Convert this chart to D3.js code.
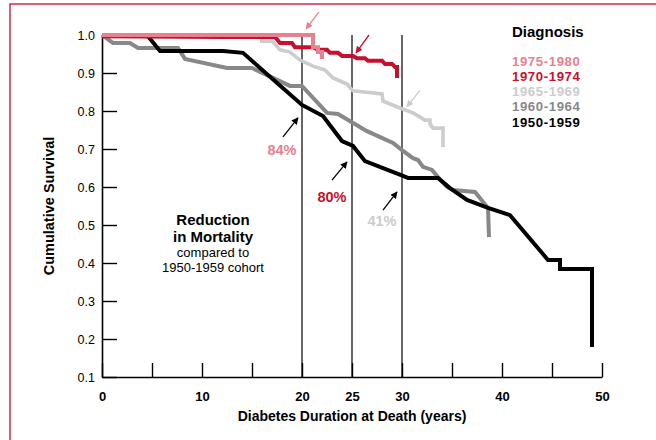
<!DOCTYPE html>
<html>
<head>
<meta charset="utf-8">
<script src="https://cdn.jsdelivr.net/npm/d3@7"></script>
<style>
  body { margin: 0; background: #fff; }
  text { font-family: "Liberation Sans", Arial, Helvetica, sans-serif; }
</style>
</head>
<body>
<svg width="656" height="440"></svg>
<script>
// survival curves: [years, cumulative survival]
var cohort1975 = [[0, 1.0], [21.1, 1.0], [21.1, 0.968], [21.6, 0.968], [21.6, 0.955], [22.0, 0.955], [22.0, 0.937]];
var cohort1970 = [[0, 0.997], [12.3, 0.995], [17.3, 0.995], [17.8, 0.979], [19.0, 0.979], [19.3, 0.968], [21.1, 0.968],
  [21.6, 0.961], [22.5, 0.961], [22.8, 0.953], [23.6, 0.953], [24.0, 0.945], [25.1, 0.945], [25.5, 0.939],
  [26.3, 0.939], [26.6, 0.932], [28.0, 0.932], [28.3, 0.924], [29.0, 0.924], [29.3, 0.916], [29.5, 0.916], [29.5, 0.887]];
var cohort1965 = [[15.8, 0.984], [17.0, 0.984], [17.3, 0.976], [17.8, 0.961], [18.8, 0.955], [19.8, 0.934], [21.1, 0.918],
  [22.3, 0.908], [23.1, 0.887], [24.5, 0.871], [25.1, 0.853], [28.0, 0.845], [28.1, 0.826], [29.8, 0.808],
  [31.1, 0.795], [31.8, 0.784], [32.3, 0.776], [32.8, 0.776], [32.8, 0.766], [33.1, 0.755], [34.1, 0.755], [34.1, 0.705]];
var cohort1960 = [[0, 1.0], [1.1, 0.979], [2.8, 0.979], [3.6, 0.966], [7.6, 0.966], [8.3, 0.937], [12.5, 0.913],
  [15.0, 0.913], [18.8, 0.866], [20.0, 0.866], [22.5, 0.795], [23.6, 0.792], [26.5, 0.747], [29.1, 0.716],
  [30.0, 0.697], [31.1, 0.676], [31.6, 0.671], [32.1, 0.653], [33.0, 0.645], [33.6, 0.626], [34.5, 0.6],
  [35.1, 0.592], [37.3, 0.587], [38.6, 0.545], [38.7, 0.468]];
var cohort1950 = [[0, 1.0], [4.5, 1.0], [5.8, 0.958], [12.1, 0.958], [14.1, 0.953], [16.6, 0.895], [20.0, 0.816],
  [22.1, 0.787], [24.0, 0.721], [25.1, 0.708], [26.3, 0.668], [30.1, 0.629], [30.6, 0.624], [33.6, 0.624],
  [34.8, 0.597], [36.5, 0.566], [38.6, 0.545], [40.8, 0.526], [44.6, 0.408], [45.8, 0.408], [45.8, 0.384],
  [49.0, 0.384], [49.0, 0.179]];

var legendLabels = ["1975-1980", "1970-1974", "1965-1969", "1960-1964", "1950-1959"];
var yTicks = [0.1, 0.2, 0.3, 0.4, 0.5, 0.6, 0.7, 0.8, 0.9, 1.0];
var xTicks = [0, 5, 10, 15, 20, 25, 30, 35, 40, 45, 50];
var xTickLabels = [0, 10, 20, 25, 30, 40, 50];
var markerYears = [20, 25, 30];
var reductionLabels = ["84%", "80%", "41%"];

var colors = {
  "1975-1980": "#e8808f",
  "1970-1974": "#c8102e",
  "1965-1969": "#cccccc",
  "1960-1964": "#888888",
  "1950-1959": "#000000"
};

var svg = d3.select("svg");

// outer frame
svg.append("rect")
  .attr("x", 10).attr("y", 4).attr("width", 700).attr("height", 500)
  .attr("fill", "none").attr("stroke", "#cf2a4a").attr("stroke-width", 1.5);

var x = d3.scaleLinear().domain([0, 50]).range([102, 602]);
var y = d3.scaleLinear().domain([0.1, 1.0]).range([377, 35]);

// duration markers
svg.selectAll(".marker")
  .data(markerYears)
  .enter().append("line")
  .attr("x1", function(d) { return x(d); })
  .attr("x2", function(d) { return x(d); })
  .attr("y1", y(1.0)).attr("y2", y(0.1))
  .attr("stroke", "#000").attr("stroke-width", 1.2);

// axes
var yAxis = d3.axisLeft(y)
  .tickValues(yTicks)
  .tickFormat(d3.format(".1f"))
  .tickSizeInner(-15).tickSizeOuter(0).tickPadding(7);

var gy = svg.append("g").attr("transform", "translate(" + x(0) + ",0)").call(yAxis);
gy.select(".domain").attr("stroke-width", 1.6);
gy.selectAll(".tick line").attr("stroke-width", 1.4);
gy.selectAll("text").attr("font-size", 12.5).attr("font-family", "Liberation Sans, Arial, sans-serif");

var xAxis = d3.axisBottom(x)
  .tickValues(xTicks)
  .tickFormat(function(d) { return xTickLabels.indexOf(d) >= 0 ? d : ""; })
  .tickSizeInner(-14).tickSizeOuter(0).tickPadding(15);

var gx = svg.append("g").attr("transform", "translate(0," + y(0.1) + ")").call(xAxis);
gx.select(".domain").attr("stroke-width", 1.6);
gx.selectAll(".tick line").attr("stroke-width", 1.4);
gx.selectAll("text").attr("font-size", 13).attr("font-weight", "bold")
  .attr("font-family", "Liberation Sans, Arial, sans-serif");

svg.append("text")
  .attr("x", x(25)).attr("y", 421)
  .attr("text-anchor", "middle").attr("font-size", 14).attr("font-weight", "bold")
  .text("Diabetes Duration at Death (years)");

svg.append("text")
  .attr("transform", "translate(54," + y(0.55) + ") rotate(-90)")
  .attr("text-anchor", "middle").attr("font-size", 14.5).attr("font-weight", "bold")
  .text("Cumulative Survival");

// curves
var line = d3.line()
  .x(function(d) { return x(d[0]); })
  .y(function(d) { return y(d[1]); });

var series = [
  { key: "1965-1969", values: cohort1965, w: 3.6 },
  { key: "1960-1964", values: cohort1960, w: 4 },
  { key: "1950-1959", values: cohort1950, w: 4 },
  { key: "1970-1974", values: cohort1970, w: 4 },
  { key: "1975-1980", values: cohort1975, w: 4 }
];

svg.selectAll(".curve")
  .data(series)
  .enter().append("path")
  .attr("class", "curve")
  .attr("d", function(d) { return line(d.values); })
  .attr("fill", "none")
  .attr("stroke", function(d) { return colors[d.key]; })
  .attr("stroke-width", function(d) { return d.w; })
  .attr("stroke-linejoin", "miter");

// legend
svg.append("text")
  .attr("x", 512).attr("y", 37)
  .attr("font-size", 15).attr("font-weight", "bold")
  .text("Diagnosis");

svg.selectAll(".legend")
  .data(legendLabels)
  .enter().append("text")
  .attr("x", 512)
  .attr("y", function(d, i) { return 65.5 + i * 15.3; })
  .attr("font-size", 13.2).attr("font-weight", "bold")
  .attr("letter-spacing", 0.6)
  .attr("fill", function(d) { return colors[d]; })
  .text(function(d) { return d; });

// arrows: [from year, from surv, to year, to surv, colour key]
var arrows = [
  [21.7, 1.061, 20.4, 1.016, "1975-1980"],
  [26.7, 1.0, 25.4, 0.953, "1970-1974"],
  [31.8, 0.855, 30.5, 0.811, "1965-1969"],
  [18.1, 0.732, 19.6, 0.782, "1950-1959"],
  [23.0, 0.618, 24.5, 0.666, "1950-1959"],
  [28.1, 0.539, 29.5, 0.587, "1950-1959"]
];

var defs = svg.append("defs");
Object.keys(colors).forEach(function(k, i) {
  defs.append("marker")
    .attr("id", "head" + i)
    .attr("viewBox", "0 0 10 10")
    .attr("refX", 9).attr("refY", 5)
    .attr("markerWidth", 7).attr("markerHeight", 7)
    .attr("markerUnits", "userSpaceOnUse")
    .attr("orient", "auto")
    .append("path").attr("d", "M0,0L10,5L0,10z").attr("fill", colors[k]);
});

svg.selectAll(".arrow")
  .data(arrows)
  .enter().append("line")
  .attr("x1", function(d) { return x(d[0]); })
  .attr("y1", function(d) { return y(d[1]); })
  .attr("x2", function(d) { return x(d[2]); })
  .attr("y2", function(d) { return y(d[3]); })
  .attr("stroke", function(d) { return colors[d[4]]; })
  .attr("stroke-width", 1.3)
  .attr("marker-end", function(d) { return "url(#head" + Object.keys(colors).indexOf(d[4]) + ")"; });

// reduction percentages: [year, surv] of label
var pctPos = [[18.0, 0.684], [23.0, 0.561], [28.0, 0.497]];
var pctColors = ["1975-1980", "1970-1974", "1965-1969"];

svg.selectAll(".pct")
  .data(reductionLabels)
  .enter().append("text")
  .attr("x", function(d, i) { return x(pctPos[i][0]); })
  .attr("y", function(d, i) { return y(pctPos[i][1]); })
  .attr("text-anchor", "middle").attr("font-size", 14.5).attr("font-weight", "bold")
  .attr("fill", function(d, i) { return colors[pctColors[i]]; })
  .text(function(d) { return d; });

// note block
var note = [
  { t: "Reduction", s: 0.5, b: true },
  { t: "in Mortality", s: 0.455, b: true },
  { t: "compared to", s: 0.416, b: false },
  { t: "1950-1959 cohort", s: 0.376, b: false }
];

svg.selectAll(".note")
  .data(note)
  .enter().append("text")
  .attr("x", x(11.1))
  .attr("y", function(d) { return y(d.s); })
  .attr("text-anchor", "middle")
  .attr("font-size", function(d) { return d.b ? 15 : 13; })
  .attr("font-weight", function(d) { return d.b ? "bold" : "normal"; })
  .text(function(d) { return d.t; });
</script>
</body>
</html>
